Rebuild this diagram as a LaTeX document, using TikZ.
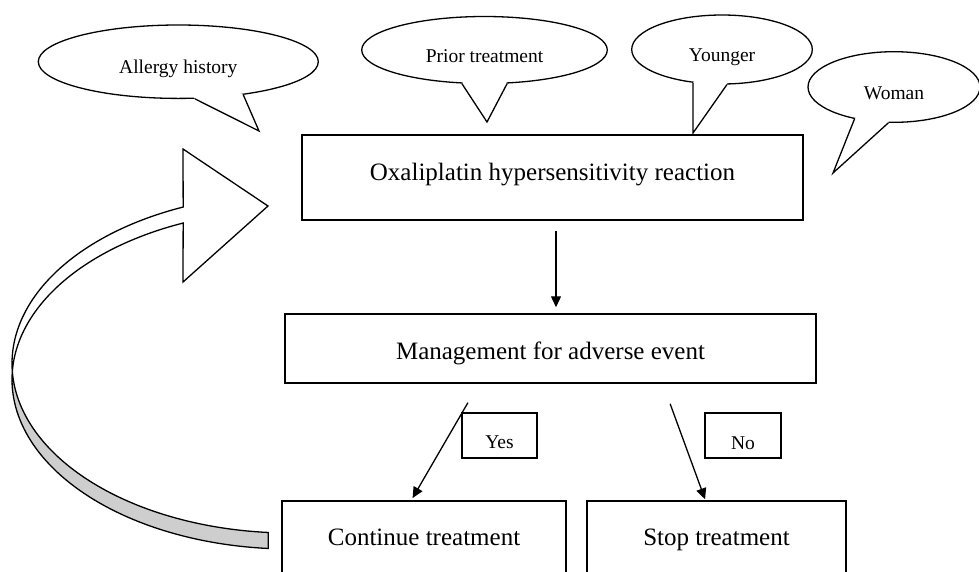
\documentclass[tikz,border=0pt]{standalone}
\usepackage{fontspec}
\setmainfont{Liberation Serif}
\usetikzlibrary{shapes.geometric,arrows.meta,calc}
\definecolor{bandgray}{RGB}{206,206,206}
\begin{document}
\begin{tikzpicture}[x=1pt,y=-1pt,
  box/.style={draw, line width=1.5pt, inner sep=0pt, font=\fontsize{25}{30}\selectfont},
  tag/.style={draw, line width=1.4pt, inner sep=0pt, font=\fontsize{19.5}{23}\selectfont, minimum height=45pt, text height=26pt, text depth=0pt},
  bubble/.style={ellipse, draw, fill=white, line width=1.3pt, inner sep=0pt, font=\fontsize{19.5}{23}\selectfont, text depth=0pt},
  pointer/.style={line width=1.3pt, line join=miter},
  arr/.style={line width=1.3pt, -{Triangle[length=11pt,width=10pt]}},
  band/.style={line width=1.3pt, line join=miter}]
\clip (0,0) rectangle (979,571);
\fill[white] (0,0) rectangle (979,571);

% boxes
\node[box, minimum width=501pt, minimum height=85pt, text height=12pt, text depth=7pt] (hsr) at (552.5,177.5) {Oxaliplatin hypersensitivity reaction};
\node[box, minimum width=531pt, minimum height=69pt, text height=21pt, text depth=0pt] (mgmt) at (550.5,348.5) {Management for adverse event};
\node[box, minimum width=284pt, minimum height=89pt, text height=8pt, text depth=8pt] (cont) at (424,545.5) {Continue treatment};
\node[box, minimum width=259pt, minimum height=89pt, text height=8pt, text depth=8pt] (stop) at (716.5,545.5) {Stop treatment};
\node[tag, minimum width=75pt] (yes) at (499.5,435.5) {Yes};
\node[tag, minimum width=76pt, text height=27pt] (no) at (743,435.5) {No};

% arrows
\draw[arr, shorten <=10pt, shorten >=6pt] ([xshift=3.5pt]hsr.south) -- ([xshift=5.5pt]mgmt.north);
\draw[arr, shorten <=21.9pt, shorten >=2.5pt] ([xshift=-71.6pt]mgmt.south) -- ([xshift=-12.7pt]cont.north);
\draw[arr, shorten <=21.3pt, shorten >=1pt] ([xshift=112.3pt]mgmt.south) -- ([xshift=-11.1pt]stop.north);

% callouts
\coordinate (tipA) at (259,131);
\coordinate (tipP) at (487,122);
\coordinate (tipY) at (693,133);
\coordinate (tipW) at (833,173);

\node[bubble, minimum width=280pt, minimum height=73.4pt, text height=23pt] (allergy) at (178.3,61.7) {Allergy history};
\fill[white] (allergy.294.7) -- (tipA) -- (allergy.333.4) -- ($(allergy.333.4)!3pt!(allergy.center)$) -- ($(allergy.294.7)!3pt!(allergy.center)$) -- cycle;
\draw[pointer] (allergy.294.7) -- (tipA) -- (allergy.333.4);

\node[bubble, minimum width=245.6pt, minimum height=67pt, text height=25.4pt] (prior) at (484.5,50) {Prior treatment};
\fill[white] (prior.236.9) -- (tipP) -- (prior.304.3) -- ($(prior.304.3)!3pt!(prior.center)$) -- ($(prior.236.9)!3pt!(prior.center)$) -- cycle;
\draw[pointer] (prior.236.9) -- (tipP) -- (prior.304.3);

\node[bubble, minimum width=180.6pt, minimum height=69pt, text height=24.4pt] (younger) at (722,49.5) {Younger};
\fill[white] (younger.229.5) -- (tipY) -- (younger.278) -- ($(younger.278)!3pt!(younger.center)$) -- ($(younger.229.5)!3pt!(younger.center)$) -- cycle;
\draw[pointer] (younger.229.5) -- (tipY) -- (younger.278);

\node[bubble, minimum width=172pt, minimum height=70.6pt, text height=24.6pt] (woman) at (894,87) {Woman};
\fill[white] (woman.219.1) -- (tipW) -- (woman.261.9) -- ($(woman.261.9)!3pt!(woman.center)$) -- ($(woman.219.1)!3pt!(woman.center)$) -- cycle;
\draw[pointer] (woman.219.1) -- (tipW) -- (woman.261.9);

% curved block arrow (feedback loop)
\draw[band, fill=bandgray]
  plot[domain=182.7:265.5, samples=60] ({290+278*cos(\x)},{363.5-169.5*sin(\x)})
  -- plot[domain=265.5:177.3, samples=60] ({290+278*cos(\x)},{379.5-169.5*sin(\x)})
  -- cycle;
\draw[band, fill=white]
  plot[domain=112.6:182.7, samples=60] ({290+278*cos(\x)},{363.5-169.5*sin(\x)})
  -- plot[domain=177.3:112.6, samples=60] ({290+278*cos(\x)},{379.5-169.5*sin(\x)})
  -- (183,282) -- (268,206) -- (183,149) -- cycle;
\end{tikzpicture}
\end{document}
